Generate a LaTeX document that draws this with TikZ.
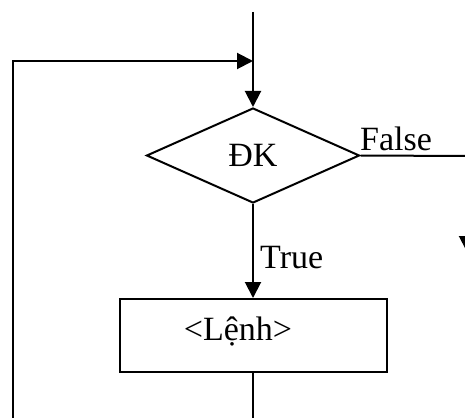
\documentclass[tikz,border=0pt]{standalone}
\usepackage{fontspec}
\setmainfont{Liberation Serif}
\usetikzlibrary{shapes.geometric,arrows.meta}
\begin{document}
\begin{tikzpicture}[x=1pt,y=-1pt,
  flow/.style={line width=2pt},
  arr/.style={flow,-{Triangle[length=16pt,width=16pt]}},
  cond/.style={diamond,draw,line width=2pt,inner sep=0pt,
    minimum width=213pt,minimum height=95pt,aspect=2.24},
  stepbox/.style={rectangle,draw,line width=2pt,inner sep=0pt,
    minimum width=267pt,minimum height=73pt},
  txt/.style={inner sep=0pt,font=\fontsize{34}{40}\selectfont}]
  \clip (0,0) rectangle (465,417);
  % entry point and loop junction on the main column
  \coordinate (entry) at (253,12);
  \coordinate (join) at (253,61);
  % condition and loop body
  \node[cond,txt] (dk) at (253,155.5) {ĐK};
  \node[stepbox] (body) at (253.5,335.5) {};
  \node[txt,anchor=base] (bodytext) at (238,340) {<Lệnh>};
  % branch labels
  \node[txt,anchor=base west] (false) at (360,150) {False};
  \node[txt,anchor=base west] (true) at (260,268) {True};
  % exit route on the right
  \coordinate (exitturn) at (467,156);
  \coordinate (exitend) at (467,252);
  % connectors
  \draw[arr] (entry) -- (dk.north);
  \draw[arr] (dk.south) -- (body.north -| dk.south);
  \draw[arr] (dk.east) -- (exitturn) -- (exitend);
  \draw[arr] (body.south -| dk.south) -- ++(0,80) -| (13,61) -- (join);
\end{tikzpicture}
\end{document}
